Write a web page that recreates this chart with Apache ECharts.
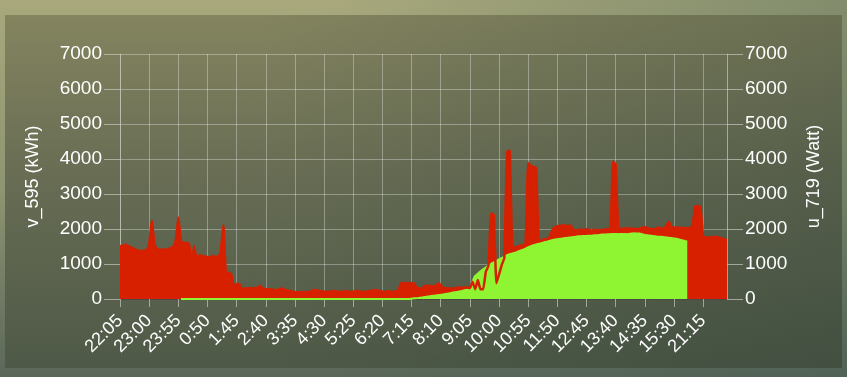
<!DOCTYPE html>
<html>
<head>
<meta charset="utf-8">
<script src="https://cdn.jsdelivr.net/npm/echarts@6/dist/echarts.min.js"></script>
<style>
  html, body { margin: 0; padding: 0; }
  body {
    width: 847px; height: 377px; overflow: hidden; position: relative;
    background:
      linear-gradient(to right, rgba(60,90,80,0) 40%, rgba(60,90,80,0.35) 100%),
      linear-gradient(to bottom, #a8a87c 0%, #8e9572 50%, #5a6759 100%);
  }
  #panel {
    position: absolute; left: 5px; top: 15px; width: 837px; height: 353px;
    background:
      linear-gradient(to right, rgba(30,50,45,0) 30%, rgba(30,50,45,0.25) 100%),
      linear-gradient(to bottom, #84845f 0%, #686d54 45%, #4e5947 100%);
  }
  #grafico { position: absolute; left: 0; top: 0; width: 847px; height: 377px; }
</style>
</head>
<body>
<div id="panel"></div>
<div id="grafico"></div>
<script>
// Datos: dos tramos de tiempo cada 5 minutos (hay un hueco entre 15:55 y 20:50)
const tramosInicio = ['22:05', '20:50'];
const tramosLargo = [215, 15];

// v_595 (kWh) - eje izquierdo
const v595 = [
  1500, 1520, 1550, 1520, 1480, 1450, 1400, 1380, 1370, 1380,
  1400, 1550, 2240, 1550, 1430, 1400, 1420, 1400, 1420, 1450,
  1480, 1650, 2330, 1650, 1600, 1600, 1580, 1070, 1510, 1070,
  1250, 1230, 1210, 1200, 1180, 1230, 1200, 1200, 1350, 2110,
  700, 750, 700, 340, 430, 430, 280, 300, 300, 310,
  300, 320, 310, 370, 280, 280, 280, 280, 260, 250,
  280, 300, 270, 240, 230, 210, 190, 190, 190, 190,
  200, 190, 220, 250, 260, 230, 220, 210, 210, 200,
  220, 230, 210, 200, 210, 220, 210, 200, 210, 230,
  220, 210, 200, 210, 220, 240, 250, 240, 230, 210,
  200, 220, 210, 210, 220, 230, 450, 460, 450, 440,
  460, 430, 320, 300, 310, 370, 380, 370, 360, 380,
  440, 400, 320, 300, 310, 290, 300, 320, 330, 320,
  330, 330, 310, 495, 276, 543, 276, 276, 780, 950,
  2450, 2400, 448, 700, 970, 1180, 4200, 4240, 1450, 1480,
  1500, 1520, 1540, 1560, 3880, 3800, 3780, 3730, 1650, 1670,
  1700, 1710, 1750, 1950, 2050, 2080, 2090, 2100, 2100, 2080,
  2100, 1980, 1960, 1970, 1980, 1970, 1990, 1970, 1950, 1980,
  1960, 1970, 1960, 1990, 2000, 2000, 3920, 3850, 2000, 2010,
  1990, 2030, 2000, 2020, 2000, 1990, 2010, 2040, 2050, 2030,
  2000, 1990, 2000, 2040, 2010, 2020, 2080, 2210, 2060, 2040,
  2030, 2040, 2030, 2020, 2030, 2020, 2100, 2650, 2660, 2620,
  1780, 1760, 1750, 1770, 1760, 1780, 1750, 1740, 1700, 1690
];

// u_719 (Watt) - eje derecho
const u719 = [
  null, null, null, null, null, null, null, null, null, null,
  null, null, null, null, null, null, null, null, null, null,
  null, null, null, 0, 0, 0, 0, 0, 0, 0,
  0, 0, 0, 0, 0, 0, 0, 0, 0, 0,
  0, 0, 0, 0, 0, 0, 0, 0, 0, 0,
  0, 0, 0, 0, 0, 0, 0, 0, 0, 0,
  0, 0, 0, 0, 0, 0, 0, 0, 0, 0,
  0, 0, 0, 0, 0, 0, 0, 0, 0, 0,
  0, 0, 0, 0, 0, 0, 0, 0, 0, 0,
  0, 0, 0, 0, 0, 0, 0, 0, 0, 0,
  0, 0, 0, 0, 0, 0, 0, 0, 0, 0,
  10, 20, 25, 35, 45, 60, 70, 80, 90, 100,
  110, 120, 130, 145, 160, 175, 190, 200, 215, 230,
  250, 270, 280, 500, 660, 720, 790, 850, 900, 950,
  1000, 1050, 1090, 1130, 1170, 1210, 1250, 1280, 1300, 1320,
  1350, 1380, 1410, 1440, 1480, 1510, 1540, 1560, 1580, 1600,
  1620, 1640, 1660, 1680, 1700, 1710, 1720, 1730, 1740, 1750,
  1760, 1770, 1780, 1790, 1795, 1800, 1800, 1810, 1810, 1820,
  1820, 1830, 1840, 1840, 1850, 1850, 1860, 1860, 1850, 1860,
  1860, 1850, 1860, 1870, 1880, 1870, 1870, 1850, 1830, 1820,
  1810, 1800, 1790, 1780, 1780, 1770, 1760, 1750, 1740, 1730,
  1720, 1700, 1680, 1660, 1640, null, null, null, null, null,
  null, null, null, null, null, null, null, null, null, null
];

// Etiquetas de tiempo
function crearHoras() {
    const horas = [];
    tramosInicio.forEach((inicio, t) => {
        const partes = inicio.split(':');
        let minutos = parseInt(partes[0]) * 60 + parseInt(partes[1]);
        for (let k = 0; k < tramosLargo[t]; k++) {
            const m = minutos % 1440;
            horas.push(Math.floor(m / 60) + ':' + String(m % 60).padStart(2, '0'));
            minutos += 5;
        }
    });
    return horas;
}

const rojo = '#d62000';
const verde = '#8ff532';
const fuente = "'Liberation Sans', Arial, sans-serif";

function ejeY(nombre, posicion) {
    return {
        type: 'value',
        position: posicion,
        min: 0,
        max: 7000,
        interval: 1000,
        name: nombre,
        nameLocation: 'middle',
        nameGap: 78,
        nameTextStyle: { color: '#ffffff', fontSize: 18, fontFamily: fuente },
        axisLine: { show: true, lineStyle: { color: 'rgba(200,200,190,0.7)' } },
        axisTick: { show: true, length: 16, lineStyle: { color: 'rgba(200,200,190,0.7)' } },
        axisLabel: {
            color: '#ffffff', fontSize: 19, fontFamily: fuente, margin: 18,
            formatter: valor => String(valor)
        },
        splitLine: { show: posicion === 'left', lineStyle: { color: 'rgba(255,255,255,0.32)' } }
    };
}

function crearGrafico(horas) {
    return {
        animation: false,
        grid: { left: 120, right: 120, top: 54, bottom: 78 },
        xAxis: {
            type: 'category',
            data: horas,
            boundaryGap: false,
            axisLine: { lineStyle: { color: '#4a4a44' } },
            axisTick: { interval: 10, length: 8, lineStyle: { color: 'rgba(200,200,190,0.7)' } },
            axisLabel: { interval: 10, rotate: 45, color: '#ffffff', fontSize: 18, fontFamily: fuente, margin: 19 },
            splitLine: { show: true, interval: 10, lineStyle: { color: 'rgba(255,255,255,0.32)' } }
        },
        yAxis: [ejeY('v_595 (kWh)', 'left'), ejeY('u_719 (Watt)', 'right')],
        series: [
            {
                name: 'v_595',
                type: 'line',
                data: v595,
                yAxisIndex: 0,
                smooth: 0.12,
                symbol: 'none',
                z: 2,
                lineStyle: { color: rojo, width: 1 },
                areaStyle: { color: rojo, opacity: 1 }
            },
            {
                name: 'u_719',
                type: 'line',
                data: u719,
                yAxisIndex: 1,
                smooth: 0.3,
                symbol: 'none',
                z: 3,
                lineStyle: { color: verde, width: 2 },
                areaStyle: { color: verde, opacity: 1 }
            },
            {
                // línea roja por encima del área verde
                name: 'v_595 línea',
                type: 'line',
                data: v595,
                yAxisIndex: 0,
                smooth: 0.12,
                symbol: 'none',
                z: 4,
                lineStyle: { color: rojo, width: 2.5 }
            }
        ]
    };
}

const chartDom = document.getElementById('grafico');
const myChart = echarts.init(chartDom, null, { renderer: 'canvas' });
myChart.setOption(crearGrafico(crearHoras()));
</script>
</body>
</html>
